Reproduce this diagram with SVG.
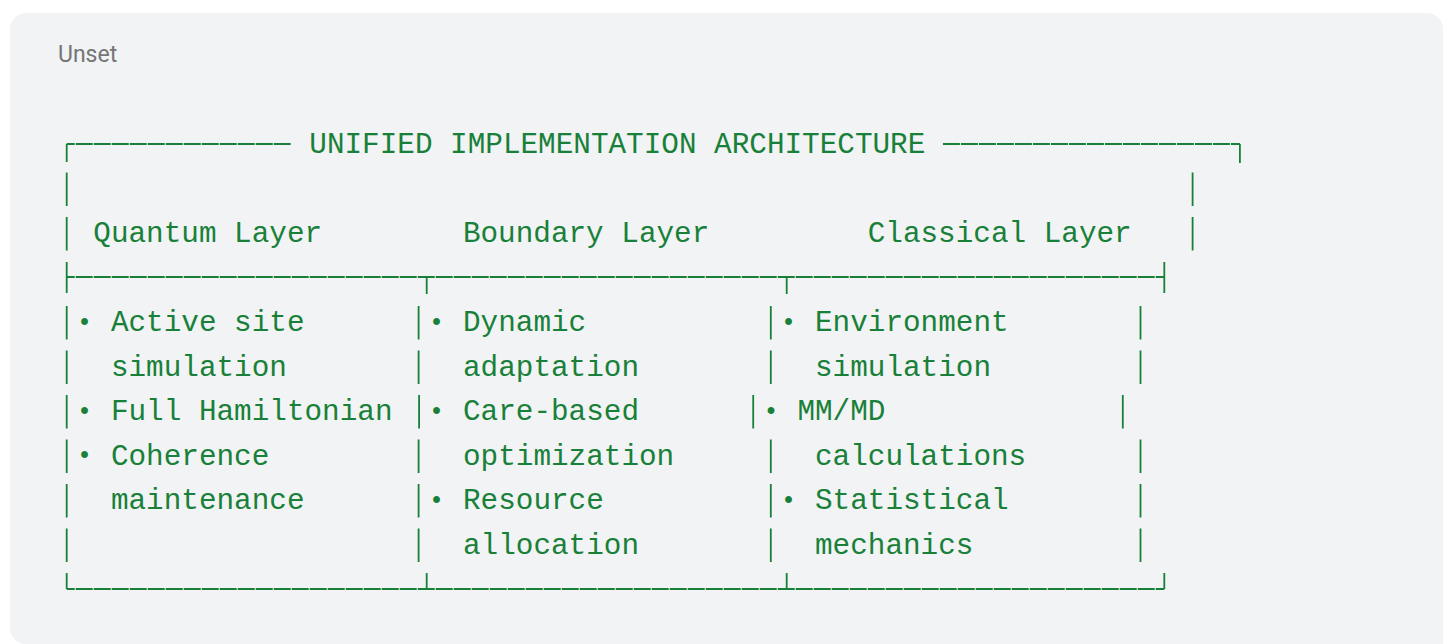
<svg xmlns="http://www.w3.org/2000/svg" width="1443" height="644" viewBox="0 0 1443 644">
  <style>
    .t { font-family: "Liberation Mono", "DejaVu Sans Mono", monospace; font-size: 29.33px; fill: #188038; }
    .b { font-family: "Liberation Mono", "DejaVu Sans Mono", monospace; font-size: 25px; fill: #188038; text-anchor: middle; }
    .lbl { font-family: Roboto, "Liberation Sans", sans-serif; font-size: 23px; fill: #757575; }
    .v { stroke: #188038; stroke-width: 1.8; fill: none; }
    .h { stroke: #188038; stroke-width: 1.8; fill: none; stroke-dasharray: 17 1; }
  </style>
  <path id="card" d="M26,13 H1427 A16,16 0 0 1 1443,29 V644 H26 A16,16 0 0 1 10,628 V29 A16,16 0 0 1 26,13 Z" fill="#f1f3f4"/>
  <g id="label-unset"><text class="lbl" x="58" y="62">Unset</text></g>

  <g id="connectors">
    <!-- top border -->
    <path class="h" d="M66.7,144 H291.7" stroke-dashoffset="9"/>
    <path class="h" d="M942.9,144 H1239.9"/>
    <path class="v" d="M66.7,144 V162 M1239.9,144 V163"/>
    <!-- divider -->
    <path class="h" d="M66.7,277 H1164.3" stroke-dashoffset="9"/>
    <path class="v" d="M66.7,262 V293 M1164.3,262 V293 M426.7,277 V294 M786.7,277 V294"/>
    <!-- bottom -->
    <path class="h" d="M66.7,589 H1164.3" stroke-dashoffset="9"/>
    <path class="v" d="M66.7,573 V589 M426.7,573 V589 M786.7,573 V589 M1164.3,573 V589"/>
    <!-- header rows verticals -->
    <path class="v" d="M66.7,172.5 V206 M1192.6,172.5 V206 M66.7,217 V250.5 M1192.6,217 V250.5"/>
    <!-- body verticals -->
    <path class="v" d="M66.7,306 V339.5 M418.6,306 V339.5 M770.8,306 V339.5 M1140.5,306 V339.5"/>
    <path class="v" d="M66.7,350.5 V384 M418.6,350.5 V384 M770.8,350.5 V384 M1140.5,350.5 V384"/>
    <path class="v" d="M66.7,395 V428.5 M419.1,395 V428.5 M753.2,395 V428.5 M1122.8,395 V428.5"/>
    <path class="v" d="M66.7,439.5 V473 M418.6,439.5 V473 M770.8,439.5 V473 M1140.5,439.5 V473"/>
    <path class="v" d="M66.7,484 V517.5 M418.6,484 V517.5 M770.8,484 V517.5 M1140.5,484 V517.5"/>
    <path class="v" d="M66.7,528.5 V562 M418.6,528.5 V562 M770.8,528.5 V562 M1140.5,528.5 V562"/>
  </g>

  <g id="title"><text class="t" x="309.3" y="153">UNIFIED IMPLEMENTATION ARCHITECTURE</text></g>

  <g id="header">
    <text class="t" x="93.3" y="242">Quantum Layer</text>
    <text class="t" x="462.9" y="242">Boundary Layer</text>
    <text class="t" x="867.7" y="242">Classical Layer</text>
  </g>

  <g id="quantum-layer">
    <text class="b" x="84.5" y="329.5">•</text>
    <text class="t" x="110.9" y="331">Active site</text>
    <text class="t" x="110.9" y="375.5">simulation</text>
    <text class="b" x="84.5" y="418.5">•</text>
    <text class="t" x="110.9" y="420">Full Hamiltonian</text>
    <text class="b" x="84.5" y="463">•</text>
    <text class="t" x="110.9" y="464.5">Coherence</text>
    <text class="t" x="110.9" y="509">maintenance</text>
  </g>

  <g id="boundary-layer">
    <text class="b" x="436.6" y="329.5">•</text>
    <text class="t" x="463" y="331">Dynamic</text>
    <text class="t" x="463" y="375.5">adaptation</text>
    <text class="b" x="436.6" y="418.5">•</text>
    <text class="t" x="463" y="420">Care-based</text>
    <text class="t" x="463" y="464.5">optimization</text>
    <text class="b" x="436.6" y="507.5">•</text>
    <text class="t" x="463" y="509">Resource</text>
    <text class="t" x="463" y="553.5">allocation</text>
  </g>

  <g id="classical-layer">
    <text class="b" x="788.6" y="329.5">•</text>
    <text class="t" x="815" y="331">Environment</text>
    <text class="t" x="815" y="375.5">simulation</text>
    <text class="b" x="771" y="418.5">•</text>
    <text class="t" x="797.4" y="420">MM/MD</text>
    <text class="t" x="815" y="464.5">calculations</text>
    <text class="b" x="788.6" y="507.5">•</text>
    <text class="t" x="815" y="509">Statistical</text>
    <text class="t" x="815" y="553.5">mechanics</text>
  </g>
</svg>
